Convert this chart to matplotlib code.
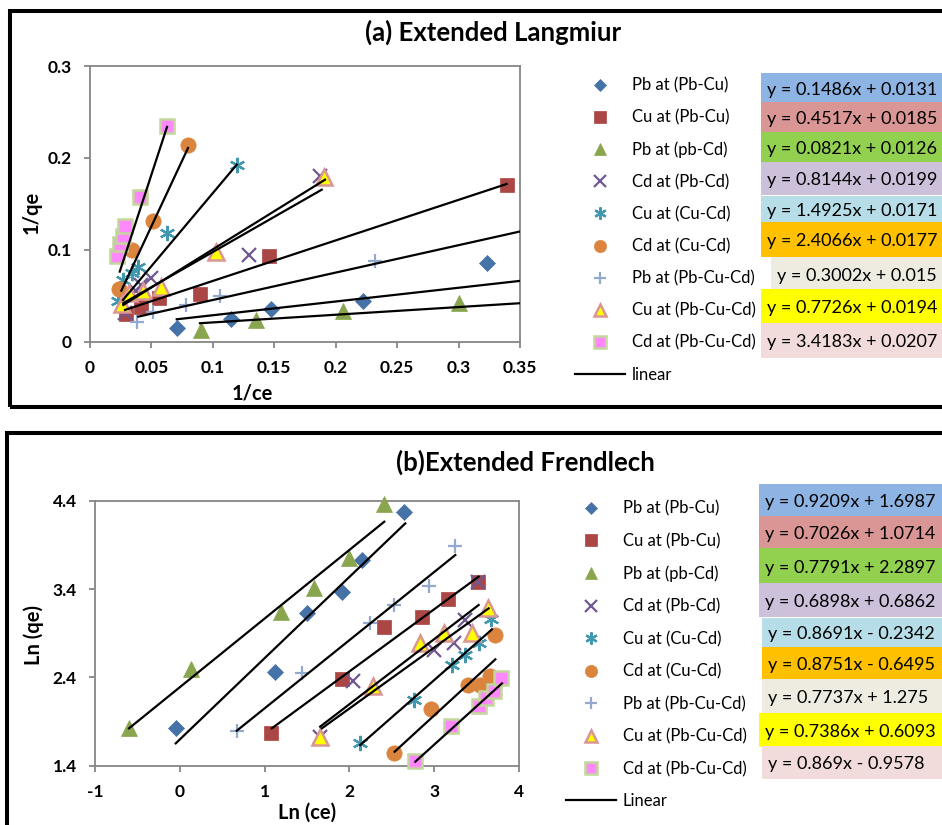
import matplotlib
matplotlib.use("Agg")
import matplotlib.pyplot as plt
from matplotlib.patches import Rectangle

plt.rcParams['font.family'] = ['Lato', 'DejaVu Sans']

W, H = 942, 825

# ---------------- data: (a) Extended Langmuir ----------------
labels = ["Pb at (Pb-Cu)", "Cu at (Pb-Cu)", "Pb at (pb-Cd)", "Cd at (Pb-Cd)", "Cu at (Cu-Cd)",
          "Cd at (Cu-Cd)", "Pb at (Pb-Cu-Cd)", "Cu at (Pb-Cu-Cd)", "Cd at (Pb-Cu-Cd)"]

a_pb_pbcu_x = [0.0706, 0.1148, 0.1473, 0.2225, 0.3234]
a_pb_pbcu_y = [0.0144, 0.0242, 0.0351, 0.0445, 0.0853]
a_cu_pbcu_x = [0.0293, 0.0415, 0.0564, 0.0895, 0.1459, 0.3392]
a_cu_pbcu_y = [0.0297, 0.0380, 0.0471, 0.0515, 0.0933, 0.1707]
a_pb_pbcd_x = [0.0901, 0.1349, 0.2057, 0.3003]
a_pb_pbcd_y = [0.0125, 0.0235, 0.0333, 0.0423]
a_cd_pbcd_x = [0.0282, 0.0377, 0.0418, 0.0499, 0.1297, 0.1872]
a_cd_pbcd_y = [0.0307, 0.0554, 0.0616, 0.0690, 0.0944, 0.1798]
a_cu_cucd_x = [0.0230, 0.0271, 0.0339, 0.0393, 0.0629, 0.1194]
a_cu_cucd_y = [0.0445, 0.0671, 0.0750, 0.0816, 0.1180, 0.1925]
a_cd_cucd_x = [0.0240, 0.0338, 0.0513, 0.0794]
a_cd_cucd_y = [0.0573, 0.0998, 0.1315, 0.2136]
a_pb_pbcucd_x = [0.0385, 0.0515, 0.0781, 0.1058, 0.2320]
a_pb_pbcucd_y = [0.0216, 0.0325, 0.0398, 0.0496, 0.0881]
a_cu_pbcucd_x = [0.0263, 0.0317, 0.0434, 0.0578, 0.1023, 0.1907]
a_cu_pbcucd_y = [0.0409, 0.0526, 0.0554, 0.0598, 0.0980, 0.1791]
a_cd_pbcucd_x = [0.0222, 0.0242, 0.0269, 0.0287, 0.0405, 0.0627]
a_cd_pbcucd_y = [0.0933, 0.1064, 0.1151, 0.1260, 0.1573, 0.2350]

# trend line end points (x0, x1, y0, y1)
a_fit_x0 = [0.0706, 0.0285, 0.0895, 0.0271, 0.0269, 0.0255, 0.0393, 0.0271, 0.0242]
a_fit_x1 = [0.3500, 0.3391, 0.3500, 0.1913, 0.1194, 0.0798, 0.3500, 0.1886, 0.0627]
a_fit_y0 = [0.0242, 0.0344, 0.0199, 0.0398, 0.0453, 0.0554, 0.0271, 0.0417, 0.0761]
a_fit_y1 = [0.0660, 0.1715, 0.0417, 0.1762, 0.1925, 0.2107, 0.1198, 0.1653, 0.2337]

a_equations = ["y = 0.1486x + 0.0131", "y = 0.4517x + 0.0185", "y = 0.0821x + 0.0126",
               "y = 0.8144x + 0.0199", "y = 1.4925x + 0.0171", "y = 2.4066x + 0.0177",
               "y = 0.3002x + 0.015", "y = 0.7726x + 0.0194", "y = 3.4183x + 0.0207"]
a_xticks = [0, 0.05, 0.1, 0.15, 0.2, 0.25, 0.3, 0.35]
a_xticklabels = ["0", "0.05", "0.1", "0.15", "0.2", "0.25", "0.3", "0.35"]
a_yticks = [0, 0.1, 0.2, 0.3]
a_yticklabels = ["0", "0.1", "0.2", "0.3"]

# ---------------- data: (b) Extended Freundlich ----------------
b_pb_pbcu_x = [-0.048, 1.124, 1.498, 1.911, 2.147, 2.639]
b_pb_pbcu_y = [1.823, 2.464, 3.132, 3.362, 3.728, 4.275]
b_cu_pbcu_x = [1.073, 1.911, 2.411, 2.855, 3.158, 3.516]
b_cu_pbcu_y = [1.774, 2.377, 2.974, 3.079, 3.283, 3.483]
b_pb_pbcd_x = [-0.599, 0.133, 1.195, 1.577, 2.000, 2.403]
b_pb_pbcd_y = [1.823, 2.490, 3.143, 3.408, 3.747, 4.362]
b_cd_pbcd_x = [1.655, 2.041, 2.993, 3.229, 3.367, 3.512]
b_cd_pbcd_y = [1.720, 2.362, 2.710, 2.785, 3.049, 3.483]
b_cu_cucd_x = [2.127, 2.757, 3.209, 3.367, 3.524, 3.670]
b_cu_cucd_y = [1.653, 2.143, 2.540, 2.653, 2.785, 3.057]
b_cd_cucd_x = [2.521, 2.965, 3.394, 3.544, 3.654, 3.713]
b_cd_cucd_y = [1.547, 2.038, 2.313, 2.313, 2.415, 2.879]
b_pb_pbcucd_x = [0.672, 1.439, 2.238, 2.529, 2.942, 3.241]
b_pb_pbcucd_y = [1.796, 2.445, 3.011, 3.219, 3.434, 3.891]
b_cu_pbcucd_x = [1.655, 2.273, 2.836, 3.111, 3.445, 3.630]
b_cu_pbcucd_y = [1.720, 2.306, 2.792, 2.906, 2.906, 3.181]
b_cd_pbcucd_x = [2.769, 3.202, 3.524, 3.614, 3.701, 3.792]
b_cd_pbcucd_y = [1.453, 1.853, 2.075, 2.162, 2.249, 2.389]

b_fit_x0 = [-0.048, 1.085, -0.599, 1.655, 2.127, 2.533, 0.672, 1.675, 2.777]
b_fit_x1 = [2.659, 3.524, 2.411, 3.524, 3.681, 3.721, 3.249, 3.642, 3.799]
b_fit_y0 = [1.653, 1.823, 1.823, 1.842, 1.634, 1.558, 1.796, 1.823, 1.445]
b_fit_y1 = [4.143, 3.540, 4.162, 3.219, 2.943, 2.604, 3.785, 3.181, 2.332]

b_equations = ["y = 0.9209x + 1.6987", "y = 0.7026x + 1.0714", "y = 0.7791x + 2.2897",
               "y = 0.6898x + 0.6862", "y = 0.8691x - 0.2342", "y = 0.8751x - 0.6495",
               "y = 0.7737x + 1.275", "y = 0.7386x + 0.6093", "y = 0.869x - 0.9578"]
b_xticks = [-1, 0, 1, 2, 3, 4]
b_xticklabels = ["-1", "0", "1", "2", "3", "4"]
b_yticks = [1.4, 2.4, 3.4, 4.4]
b_yticklabels = ["1.4", "2.4", "3.4", "4.4"]

a_series = [(a_pb_pbcu_x, a_pb_pbcu_y), (a_cu_pbcu_x, a_cu_pbcu_y), (a_pb_pbcd_x, a_pb_pbcd_y),
            (a_cd_pbcd_x, a_cd_pbcd_y), (a_cu_cucd_x, a_cu_cucd_y), (a_cd_cucd_x, a_cd_cucd_y),
            (a_pb_pbcucd_x, a_pb_pbcucd_y), (a_cu_pbcucd_x, a_cu_pbcucd_y), (a_cd_pbcucd_x, a_cd_pbcucd_y)]
b_series = [(b_pb_pbcu_x, b_pb_pbcu_y), (b_cu_pbcu_x, b_cu_pbcu_y), (b_pb_pbcd_x, b_pb_pbcd_y),
            (b_cd_pbcd_x, b_cd_pbcd_y), (b_cu_cucd_x, b_cu_cucd_y), (b_cd_cucd_x, b_cd_cucd_y),
            (b_pb_pbcucd_x, b_pb_pbcucd_y), (b_cu_pbcucd_x, b_cu_pbcucd_y), (b_cd_pbcucd_x, b_cd_pbcucd_y)]

# ---------------- styles ----------------
styles = [
    dict(marker='D', ms=7.8, mfc='#4572A7', mec='#4572A7', mew=0.5),
    dict(marker='s', ms=10.5, mfc='#AA4643', mec='#AA4643', mew=0.5),
    dict(marker='^', ms=11, mfc='#89A54E', mec='#89A54E', mew=0.5),
    dict(marker='x', ms=10, mfc='#71588F', mec='#71588F', mew=1.6),
    dict(marker=(6, 2, 0), ms=11, mfc='#4198AF', mec='#4198AF', mew=1.6),
    dict(marker='o', ms=11, mfc='#DB843D', mec='#DB843D', mew=0.5),
    dict(marker='+', ms=10, mfc='#93A9CF', mec='#93A9CF', mew=1.6),
    dict(marker='^', ms=11, mfc='#FFFF00', mec='#D99694', mew=1.8),
    dict(marker='s', ms=10.5, mfc='#FF88FF', mec='#C3D69B', mew=1.8),
]
box_colors = ['#8DB4E2', '#DA9694', '#92D050', '#CCC0DA', '#B7DEE8', '#FFC000', '#EEECE1', '#FFFF00', '#F2DCDB']

# layout (pixels)
a_box_left = [761, 761, 761, 761, 761, 761, 771, 761, 761]
a_box_top = [73.3, 101.7, 131.7, 161.7, 196, 221.7, 256.7, 289.3, 323.3]
a_box_bot = [101.7, 131.7, 161.7, 195, 221.7, 256.7, 291.7, 323.3, 357.7]
b_box_left = [759, 759, 759, 759, 762, 762, 762, 759, 762]
b_box_top = [484, 516, 548.3, 582.7, 618.3, 646.7, 679, 713.3, 745.7]
b_box_bot = [516, 548.3, 582.7, 617.3, 646.7, 679, 713.3, 746.7, 779.3]

fig = plt.figure(figsize=(W / 100, H / 100), dpi=100)


def fx(px):
    return px / W


def fy(py):
    return 1 - py / H


GRAY = '#868686'


def make_axes(rect_px, xlim, ylim, xticks, xtl, yticks, ytl):
    l, t, r, b = rect_px
    ax = fig.add_axes([fx(l), fy(b), (r - l) / W, (b - t) / H])
    ax.set_xlim(*xlim)
    ax.set_ylim(*ylim)
    ax.set_xticks(xticks)
    ax.set_xticklabels(xtl, fontweight='bold', fontsize=12.5)
    ax.set_yticks(yticks)
    ax.set_yticklabels(ytl, fontweight='bold', fontsize=12.5)
    for s in ax.spines.values():
        s.set_color(GRAY)
        s.set_linewidth(1.3)
    ax.tick_params(direction='out', length=4, width=1.3, color=GRAY)
    ax.tick_params(axis='x', pad=9)
    ax.tick_params(axis='y', pad=9)
    return ax


def draw_panel(ax, series, fx0, fx1, fy0, fy1, line_label):
    handles = []
    for (xs, ys), st, lab in zip(series, styles, labels):
        h, = ax.plot(xs, ys, linestyle='none', label=lab, clip_on=False, zorder=3, **st)
        handles.append(h)
    lh = None
    for i in range(len(fx0)):
        l, = ax.plot([fx0[i], fx1[i]], [fy0[i], fy1[i]], color='black', lw=1.6, zorder=4,
                     label=line_label if i == 0 else '_nolegend_')
        if i == 0:
            lh = l
    handles.append(lh)
    return handles


# border frames
fig.patches.append(Rectangle((fx(9.5), fy(407)), 1.2, fy(11) - fy(407), transform=fig.transFigure,
                             fill=False, edgecolor='black', linewidth=2.9))
fig.patches.append(Rectangle((fx(6.5), fy(860)), 1.2, fy(433) - fy(860), transform=fig.transFigure,
                             fill=False, edgecolor='black', linewidth=2.9))

EQ_FS = 13

# ---------- panel a ----------
axa = make_axes((90, 66, 520, 341.5), (0, 0.35), (0, 0.3), a_xticks, a_xticklabels, a_yticks, a_yticklabels)
ha = draw_panel(axa, a_series, a_fit_x0, a_fit_x1, a_fit_y0, a_fit_y1, 'linear')
axa.set_xlabel('1/ce', fontweight='bold', fontsize=14.5)
axa.set_ylabel('1/qe', fontweight='bold', fontsize=14.5)
axa.xaxis.set_label_coords((252 - 90) / 430, (341.5 - 393) / 275.5)
axa.xaxis.label.set_va('center')
axa.yaxis.set_label_coords((32 - 90) / 430, (341.5 - 212) / 275.5)
axa.yaxis.label.set_va('center')
fig.text(fx(493), fy(32), '(a) Extended Langmiur', ha='center', va='center', fontsize=18.5, fontweight='bold')

fig.legend(handles=ha, labels=[h.get_label() for h in ha], loc='center left',
           bbox_to_anchor=(fx(575), fy(230)), frameon=False, fontsize=12, borderpad=0, borderaxespad=0,
           handlelength=3.0, handletextpad=0.42, labelspacing=0.96, numpoints=1, markerscale=0.8)

for i, eq in enumerate(a_equations):
    fig.patches.append(Rectangle((fx(a_box_left[i]), fy(a_box_bot[i])), 1.0,
                                 fy(a_box_top[i]) - fy(a_box_bot[i]), transform=fig.transFigure,
                                 facecolor=box_colors[i], edgecolor='none', zorder=0))
    fig.text(fx(a_box_left[i] + 6), fy((a_box_top[i] + a_box_bot[i]) / 2 + 2), eq,
             ha='left', va='center', fontsize=EQ_FS)

# ---------- panel b ----------
axb = make_axes((95, 500.7, 519, 765.7), (-1, 4), (1.4, 4.4), b_xticks, b_xticklabels, b_yticks, b_yticklabels)
hb = draw_panel(axb, b_series, b_fit_x0, b_fit_x1, b_fit_y0, b_fit_y1, 'Linear')
axb.set_xlabel('Ln (ce)', fontweight='bold', fontsize=14.5)
axb.set_ylabel('Ln (qe)', fontweight='bold', fontsize=14.5)
axb.xaxis.set_label_coords(0.5, (765.7 - 813) / 265)
axb.xaxis.label.set_va('center')
axb.yaxis.set_label_coords((34 - 95) / 424, (765.7 - 635) / 265)
axb.yaxis.label.set_va('center')
fig.text(fx(525), fy(462), '(b)Extended Frendlech', ha='center', va='center', fontsize=18.5, fontweight='bold')

fig.legend(handles=hb, labels=[h.get_label() for h in hb], loc='center left',
           bbox_to_anchor=(fx(566), fy(655)), frameon=False, fontsize=12, borderpad=0, borderaxespad=0,
           handlelength=3.0, handletextpad=0.42, labelspacing=0.98, numpoints=1, markerscale=0.8)

for i, eq in enumerate(b_equations):
    fig.patches.append(Rectangle((fx(b_box_left[i]), fy(b_box_bot[i])), 1.0,
                                 fy(b_box_top[i]) - fy(b_box_bot[i]), transform=fig.transFigure,
                                 facecolor=box_colors[i], edgecolor='none', zorder=0))
    fig.text(fx(b_box_left[i] + 6), fy((b_box_top[i] + b_box_bot[i]) / 2 + 2), eq,
             ha='left', va='center', fontsize=EQ_FS)

fig.savefig('out.png', dpi=100)
